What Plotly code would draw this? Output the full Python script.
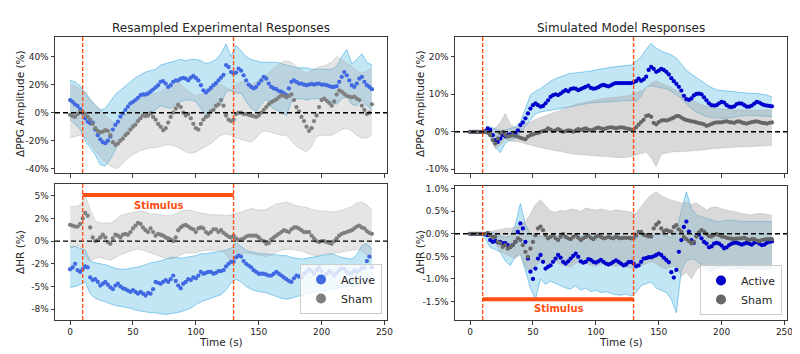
import plotly.graph_objects as go

# ---------------- data ----------------
T = list(range(0, 241, 2))      # mean traces, seconds
TB = list(range(0, 241, 4))     # confidence bands, seconds

# Top-left: Resampled experimental, dPPG amplitude (%)
tl_active = [9, 7.8, 6, 4.7, 2.6, 0, -4, -6.4, -7.6, -7, -12, -16, -19, -21, -21.7, -20, -17, -12, -8.7, -6.4,
             -2.8, -0.5, 2, 4.3, 6.6, 7.8, 9, 10.6, 12.5, 13, 13, 13.7, 15, 16.5, 18, 19.6, 22, 22.5, 20.8, 18.4,
             19.6, 22, 23, 23, 24.3, 24.8, 24.3, 23, 25, 26.2, 24.8, 23, 19.6, 16, 14.4, 16, 17.7, 19.6, 21, 23,
             25, 27, 34, 32.6, 29, 28, 28.6, 31.4, 30, 26.7, 23, 20, 18.4, 17.3, 18.4, 20.8, 23, 25.5, 24.3, 20.8,
             18.4, 17.3, 16.8, 15.4, 15, 13.7, 12.5, 17.3, 22, 23, 22, 20.8, 20.8, 20, 19.6, 20, 20.6, 20, 20.6, 20.8,
             20, 20, 19.6, 19, 18.4, 18.4, 19, 22, 25.5, 29, 26.7, 23, 19.6, 18.4, 20.8, 24.3, 25.5, 22, 19.6, 18.4,
             16.8]
tl_sham = [-1.5, -2.5, -3, -1, 0.5, 0, -1, -3, -5, -8, -11, -13, -14, -13.5, -12.5, -13, -16, -21, -23, -22,
           -20, -18.5, -16, -14.5, -12, -10, -8.5, -6, -4, -2, -2.5, -2, -0.5, -3, -5, -8, -10, -12.5, -11, -7,
           -3, 0, 3, 5.5, 4, 0, -2, -1, -4, -8, -11, -12, -8, -5, -3, -2, 1, 2, 5, 6,
           9, 5, -2, -5, -6, -5, -1, 0, 0, -1, -1, -1.5, -2, -2.5, -3, -2, 0, 2, 4, 6,
           7.5, 8.5, 9.5, 11, 12.5, 12, 11, 12, 13, 9, 4, 1, -3, -6, -10, -13, -11, -6, -2, 4,
           9, 10, 8.5, 7, 5, 8, 13, 16, 15, 13.5, 12, 11.5, 11, 11.5, 10, 9, 5, 2, -1, 0,
           6]
tl_active_hi = [23, 22, 19, 14, 9, 5, 2, 3, 8, 13, 16, 19, 22, 25, 27, 29, 30, 31, 34, 35,
                36, 37, 38, 37, 38, 38, 37, 35, 36, 38, 42, 49, 40, 48, 44, 40, 38, 37, 36, 36,
                36, 36, 35, 34, 33, 32, 32, 32, 31, 31, 31, 31, 31, 33, 40, 45, 35, 38, 42, 36, 34]
tl_active_lo = [-5, -8, -12, -20, -25, -30, -37, -38, -33, -26, -20, -14, -9, -6, -3, -2, 0, 2, 5, 4,
                3, 6, 8, 9, 9, 8, 3, -2, 0, 3, 6, 15, 16, 14, 14, 8, 3, 1, 6, 10,
                4, 2, 0, -2, 8, 10, 10, 9, 10, 10, 10, 9, 7, 6, 10, 12, 6, 5, 9, 5, 2]
tl_sham_hi = [20, 19, 17, 15, 10, 6, 2, -2, -5, -8, -5, -2, 3, 8, 10, 12, 13, 14, 15, 18,
              20, 22, 20, 17, 14, 12, 13, 14, 16, 19, 20, 18, 16, 20, 22, 21, 20, 22, 25, 27,
              30, 33, 36, 37, 36, 33, 30, 28, 30, 32, 33, 34, 36, 40, 38, 35, 33, 30, 28, 30, 32]
tl_sham_lo = [-18, -17, -16, -18, -22, -27, -32, -35, -38, -40, -38, -34, -31, -29, -27, -26, -25, -25, -24, -23,
              -23, -24, -26, -28, -29, -28, -26, -24, -22, -19, -16, -15, -16, -18, -19, -20, -21, -18, -14, -13,
              -14, -15, -16, -16, -20, -24, -26, -28, -24, -17, -16, -16, -16, -14, -12, -11, -13, -16, -18, -18, -16]

# Bottom-left: Resampled experimental, dHR (%)
bl_active = [-3.1, -2.9, -2.5, -3.2, -3.4, -3.1, -2.8, -2.9, -4, -4.3, -4.2, -4.5, -4.9, -4.7, -4.5, -4.8, -5.1, -5.3, -4.9, -4.7,
             -5, -5.2, -5.3, -5.45, -5.6, -5.4, -5.6, -5.8, -5.6, -5.8, -6, -5.7, -5.8, -5.3, -4.5, -4.6, -4.7, -4.5, -4.3, -4.5,
             -4.2, -3.8, -4.4, -4.9, -5.2, -4.7, -4.5, -4.2, -4.3, -4, -4.1, -3.8, -3.4, -3.6, -3.5, -3.4, -3.4, -3.6, -3.5, -3.3,
             -3.3, -3.2, -2.8, -2.5, -2.3, -2.3, -1.8, -1.6, -1.7, -2.2, -2.5, -2.7, -2.9, -3.2, -3.4, -3.6, -3.6, -3.6, -3.7, -3.8,
             -3.8, -3.6, -3.4, -3.6, -3.8, -4, -4.2, -4.4, -4.5, -4.1, -3.8, -3.9, -4, -3.6, -3.4, -3.1, -3.3, -3.6, -3.2, -2.9,
             -3.3, -3.8, -3.6, -3.3, -3.5, -3.8, -3.5, -3.2, -3, -3.1, -3.4, -3.6, -3.5, -3.2, -3.4, -3.2, -3, -2.9, -2.2, -1.7,
             -2.9]
bl_sham = [1.8, 1.7, 1.6, 1.6, 1.9, 2.5, 3.1, 2.8, 1.5, 0.4, 0, 0.1, 0.4, 0.7, 0.4, -0.1, -0.3, 0.3, 0.7, 0.6,
           0.4, 0.7, 0.8, 0.7, 1, 1.4, 1.7, 2, 1.9, 1.5, 1.2, 1, 1.4, 1, 0.6, 0.8, 0.7, 0.6, 0.4, 0.3,
           0.2, 0, 0.4, 1.2, 1.5, 1.7, 1.8, 1.6, 1.4, 1.3, 1, 1.4, 1.5, 1.4, 1, 0.8, 1, 1.3, 1.3, 1,
           1.2, 0.9, 0.7, 0.5, 0.4, 0.6, 0.3, 0.1, 0.2, 0.3, 0.5, 0.6, 0.6, 0.6, 0.6, 0.4, 0.1, 0, -0.3, -0.2,
           0.2, 0.4, 0.6, 0.8, 1, 1.2, 1.1, 1, 1.3, 1.5, 1.5, 1.4, 1.2, 1, 1, 1, 0.6, 0.3, 0, -0.1,
           0, 0, -0.1, -0.2, -0.3, 0, 0.3, 0.6, 0.8, 0.9, 1, 1.1, 1.2, 1.4, 1.6, 1.7, 1.5, 1.4, 1.1, 0.9,
           0.8]
bl_active_hi = [-0.6, -0.6, -0.8, -1, -2.2, -2.4, -2.5, -2.6, -2.8, -3, -3.1, -3.1, -3, -2.9, -2.8, -2.6, -2.4, -2.3, -2.2, -2,
                -1.8, -1.8, -1.9, -1.8, -1.7, -1.6, -1.4, -1.4, -1.3, -1.2, -1.1, -1, -0.8, -0.2, -0.6, -1, -1.2, -1.3, -1.4, -1.4,
                -1.5, -1.5, -1.6, -1.6, -1.8, -1.9, -2, -1.9, -1.8, -1.7, -1.6, -1.5, -1.4, -1.6, -1.8, -1.9, -2, -1.5, -0.5, -0.3, -0.9]
bl_active_lo = [-5.1, -5, -4.8, -4.5, -5.8, -6.3, -6.5, -6.7, -6.9, -7.1, -7.2, -7.3, -7.4, -7.6, -7.7, -7.8, -7.9, -7.9, -8, -8.1,
                -8, -7.9, -7.8, -7.6, -7.4, -7, -6.7, -6.5, -6.3, -6.1, -5.9, -5.4, -4.6, -4.2, -4.5, -5, -5.3, -5.5, -5.6, -5.7,
                -5.9, -6.1, -6.3, -6.4, -6.3, -6.1, -6, -5.8, -5.7, -5.6, -5.5, -5.4, -5.3, -5.2, -5.1, -5, -5, -4.9, -4.7, -4.4, -4.5]
bl_sham_hi = [3.8, 3.8, 4, 5, 3.5, 2.2, 2, 2, 2, 2.3, 2.8, 3, 3.1, 3.2, 3.3, 3.2, 3, 3, 2.9, 2.8,
              2.8, 3, 3.3, 3.4, 3.4, 3.2, 3.1, 3, 2.9, 2.9, 2.9, 2.8, 2.9, 3.1, 3.2, 3.4, 3.6, 3.5, 3.4, 3.5,
              3.8, 4.1, 4.2, 4.3, 4.1, 3.9, 3.8, 3.7, 3.5, 3.4, 3.3, 3.3, 3.2, 3.3, 3.4, 3.6, 3.8, 4.2, 4.3, 4, 3.4]
bl_sham_lo = [-0.8, -0.6, -0.5, -1.8, -2.2, -1.9, -1.8, -2, -2.1, -1.8, -1.5, -1.3, -1.1, -0.9, -0.9, -1.1, -1.3, -1.5, -1.7, -1.9,
              -2, -1.8, -1.5, -1.3, -1.3, -1.3, -1.1, -1, -1, -1, -1, -1.5, -2.2, -1.8, -1.4, -1.3, -1.4, -1.5, -1.6, -1.7,
              -1.5, -1.2, -1, -0.9, -0.9, -1, -1.1, -1.3, -1.5, -1.6, -1.5, -1.4, -1.4, -1.3, -1.2, -1.1, -1, -0.9, -1.1, -1.6, -2]

# Top-right: Simulated model, dPPG amplitude (%)
tr_active = [0, 0, 0, 0, 0, 0, 0.2, 0.9, 0.5, -0.9, -2.2, -2.7, -1.8, -0.9, -1.2, -0.9, -0.7, -0.9, -0.4, 0.4,
             1.8, 2.5, 3.6, 4.9, 6.2, 7.1, 7.6, 7.1, 6.7, 6.9, 7.6, 8.4, 9.3, 9.8, 10, 9.8, 10.2, 10.7, 11.1, 10.8,
             11.4, 11.6, 11.5, 11.1, 11.4, 11.7, 12, 12.3, 11.7, 11.5, 11.6, 11.9, 12.3, 12.5, 12.3, 12.1, 12.4, 12.8, 13, 13,
             13, 13, 13, 13, 13, 13.2, 13.5, 14.2, 13.6, 14, 14.7, 16.5, 17.3, 16.8, 16, 16.3, 16.8, 16.5, 16, 15.3,
             14.3, 13.5, 12.8, 12, 11, 9.6, 8.7, 8.5, 8.9, 9.7, 10.1, 10.2, 10, 9.2, 8.4, 7.6, 7.1, 7, 7.1, 7.6,
             8, 7.8, 7.1, 6.7, 6.6, 6.8, 7.4, 7.6, 7.5, 7.1, 6.7, 6.7, 7, 7.5, 8, 7.8, 7.4, 7.1, 7, 6.9,
             6.8]
tr_sham = [0, 0, 0, 0, 0, 0, 0, -0.2, -0.9, -2.2, -3.1, -1.8, -0.4, 0, -0.9, -1.3, -1.1, -0.9, -1.1, -1.3,
           -1.6, -1.8, -2, -1.3, -0.9, -0.7, -0.4, -0.3, 0, 0.2, 0.4, 0.9, 0.6, 0.2, 0.4, 0.7, 0.4, 0, 0.2, 0.4,
           0.3, 0, 0.4, 0.7, 0.5, 0.7, 0.9, 0.6, 0.4, 0.6, 0.9, 1.1, 0.9, 0.7, 0.9, 1.1, 1.2, 1.1, 0.9, 1.1,
           1.2, 1.1, 0.9, 0.8, 0.6, 0.5, 1.2, 1.9, 2.6, 3.2, 4.2, 4.4, 4, 2.4, 2, 2.6, 3, 3.1, 3, 3.2,
           3.5, 3.8, 4.2, 4.2, 3.8, 3.4, 3.1, 3, 2.8, 2.7, 2.5, 2.3, 2.2, 2, 1.6, 1.8, 2.1, 2.4, 2.5, 2.5,
           2.5, 2.7, 2.8, 2.6, 2.5, 2.4, 2.7, 2.8, 2.5, 2.3, 2.2, 2.4, 2.6, 2.7, 2.8, 2.6, 2.4, 2.3, 2.2, 2.4,
           2.5]
tr_active_hi = [0, 0, 0, 0.6, 1.3, 0.8, 0.3, 0.5, 0.8, 1.3, 2.5, 6, 9.8, 10.8, 11.5, 12.5, 13.5, 14.2, 14.7, 15.2,
                15.6, 15.7, 15.8, 16, 16.2, 16.5, 16.8, 17, 17.2, 17.4, 17.6, 17.7, 17.8, 18.8, 20, 22, 23.6, 22.3, 21.5, 21,
                20.5, 19.7, 18.2, 16.4, 15.4, 14.4, 13.4, 12.6, 11.8, 11.2, 11, 10.8, 10.8, 10.6, 10.4, 10.3, 10.2, 10.2, 10.1, 9.8, 9.3]
tr_active_lo = [0, 0, 0, -0.5, -1, -4, -5.6, -3, -2.2, -1.8, -0.3, 1.5, 3.2, 4.8, 5.3, 5.5, 5.7, 5.9, 6.2, 6.5,
                6.7, 7, 7.3, 7.5, 7.7, 7.8, 7.9, 8, 8.2, 8.3, 8.4, 8.4, 8.4, 8.1, 9.5, 12, 12.3, 12, 11.8, 11.5,
                10.8, 9.9, 8.9, 7.5, 6.2, 5.2, 4.6, 4.1, 3.8, 3.6, 3.6, 3.6, 3.8, 4.1, 4.3, 4.4, 4.4, 4.3, 4.3, 4.2, 4]
tr_sham_hi = [0, 0, 0, 0, 0.5, 1, 2.5, 4.9, 2, 1.2, 1.3, 2, 2.7, 3.3, 3.8, 4.3, 4.8, 5.3, 5.9, 6.5,
              7, 7.3, 7.6, 7.9, 8.2, 8.5, 8.8, 9, 9.1, 9.2, 9.3, 9.5, 9.9, 10.5, 11, 11.5, 13, 13.6, 12.9, 12.4,
              11.8, 11, 10.3, 9.5, 8.7, 7.9, 7.2, 6.8, 6.5, 6.2, 6.1, 6, 5.9, 5.9, 5.8, 5.8, 5.8, 5.8, 5.8, 5.8, 5.8]
tr_sham_lo = [0, 0, 0, 0, -1.5, -4.5, -3.5, -2, -2.5, -2.6, -2.7, -3.2, -3.6, -3.9, -4.2, -4.5, -4.8, -5, -5.3, -5.6,
              -5.8, -6, -6.1, -6.2, -6.3, -6.4, -6.6, -6.7, -6.8, -6.9, -6.9, -6.8, -6.6, -6.2, -5.8, -5.4, -7, -9.3, -6, -5.6,
              -5.4, -5.3, -5.3, -5.2, -5.1, -5, -4.9, -4.7, -4.5, -4.4, -4.3, -4.2, -4.1, -4, -4, -4, -3.9, -3.8, -3.7, -3.6, -3.6]

# Bottom-right: Simulated model, dHR (%)
br_active = [0, 0, 0, 0, 0, 0, -0.01, -0.03, -0.14, -0.18, -0.16, -0.19, -0.18, -0.21, -0.21, -0.25, -0.29, -0.25, -0.18, 0.04,
             0.23, 0.12, -0.18, -0.55, -0.84, -1, -0.77, -0.55, -0.47, -0.62, -0.77, -0.73, -0.7, -0.62, -0.55, -0.47, -0.53, -0.62, -0.66, -0.61,
             -0.55, -0.49, -0.44, -0.51, -0.61, -0.64, -0.62, -0.56, -0.58, -0.62, -0.64, -0.61, -0.58, -0.62, -0.66, -0.68, -0.66, -0.62, -0.59, -0.62,
             -0.66, -0.7, -0.68, -0.63, -0.62, -0.66, -0.72, -0.7, -0.62, -0.55, -0.54, -0.52, -0.52, -0.5, -0.47, -0.44, -0.47, -0.53, -0.58, -0.63,
             -0.85, -0.97, -0.8, -0.4, -0.14, 0.15, 0.27, 0.05, -0.14, -0.2, -0.05, -0.02, -0.1, -0.18, -0.22, -0.3, -0.28, -0.22, -0.2, -0.22,
             -0.26, -0.32, -0.3, -0.25, -0.22, -0.2, -0.2, -0.22, -0.24, -0.22, -0.2, -0.22, -0.24, -0.2, -0.18, -0.22, -0.25, -0.24, -0.2, -0.18,
             -0.17]
br_sham = [0, 0, 0, 0, 0, 0, 0, 0.02, -0.03, -0.07, -0.07, -0.18, -0.21, -0.29, -0.25, -0.33, -0.29, -0.25, -0.18, -0.1,
           -0.14, -0.25, -0.4, -0.51, -0.33, -0.18, -0.03, 0.12, 0.16, 0.08, -0.03, -0.1, -0.07, -0.03, -0.1, -0.14, -0.07, -0.01, -0.07, -0.1,
           -0.12, -0.07, -0.03, -0.09, -0.14, -0.1, -0.07, -0.04, -0.09, -0.12, -0.07, -0.04, -0.07, -0.1, -0.09, -0.07, -0.09, -0.1, -0.07, -0.09,
           -0.1, -0.09, -0.09, -0.09, -0.1, -0.1, -0.04, 0.04, 0.04, -0.02, -0.04, -0.06, -0.06, 0.12, 0.2, 0.25, 0.12, 0.05, 0.08, 0.06,
           0.05, 0.15, 0.19, 0.1, 0.04, -0.07, -0.12, -0.16, -0.21, -0.18, -0.06, 0.03, 0.08, 0.05, 0, -0.05, -0.06, -0.03, 0, -0.03,
           -0.06, -0.07, -0.09, -0.1, -0.11, -0.12, -0.11, -0.1, -0.1, -0.09, -0.12, -0.14, -0.12, -0.12, -0.15, -0.16, -0.14, -0.13, -0.12, -0.12,
           -0.12]
br_active_hi = [0, 0, 0, 0.02, 0.05, 0, -0.05, -0.08, -0.05, 0.2, 0.67, 0.2, 0, -0.1, -0.05, -0.1, -0.08, -0.05, -0.03, -0.06,
                -0.08, -0.03, -0.05, -0.02, -0.05, -0.06, -0.04, -0.06, -0.05, -0.03, -0.05, -0.06, -0.05, -0.08, -0.04, 0, 0, -0.02, 0, -0.05,
                -0.08, 0.1, 0.5, 0.93, 0.56, 0.41, 0.38, 0.34, 0.3, 0.27, 0.28, 0.3, 0.3, 0.28, 0.27, 0.27, 0.27, 0.28, 0.28, 0.27, 0.27]
br_active_lo = [0, 0, 0, -0.1, -0.3, -0.35, -0.4, -0.6, -0.7, -0.5, -0.45, -0.8, -1.2, -1.45, -1, -1.12, -1.05, -1.1, -1.15, -1.2,
                -1.22, -1.15, -1.25, -1.2, -1.28, -1.25, -1.3, -1.28, -1.32, -1.35, -1.36, -1.33, -1.38, -1.3, -1.15, -1.1, -1.07, -1.2, -1.25, -1.3,
                -1.45, -1.75, -0.8, -0.6, -0.55, -0.6, -0.7, -0.8, -0.84, -0.75, -0.7, -0.75, -0.8, -0.78, -0.74, -0.78, -0.8, -0.78, -0.8, -0.77, -0.75]
br_sham_hi = [0, 0, 0, 0.03, 0.05, 0.08, 0.1, 0.12, 0.12, 0.15, 0.2, 0.25, 0.45, 0.65, 0.75, 0.62, 0.5, 0.48, 0.52, 0.5,
              0.55, 0.53, 0.5, 0.57, 0.55, 0.52, 0.55, 0.52, 0.5, 0.53, 0.52, 0.5, 0.48, 0.45, 0.6, 0.75, 0.86, 0.93, 0.85, 0.79,
              0.75, 0.71, 0.68, 0.7, 0.65, 0.68, 0.6, 0.53, 0.58, 0.6, 0.55, 0.52, 0.5, 0.48, 0.45, 0.43, 0.42, 0.45, 0.45, 0.43, 0.41]
br_sham_lo = [0, 0, 0, -0.05, -0.1, -0.2, -0.4, -0.45, -0.5, -0.55, -0.45, -0.75, -0.85, -0.7, -0.62, -0.66, -0.64, -0.62, -0.68, -0.72,
              -0.74, -0.66, -0.62, -0.66, -0.7, -0.72, -0.68, -0.66, -0.7, -0.72, -0.7, -0.74, -0.76, -0.72, -0.7, -0.66, -0.62, -0.66, -0.75, -0.78,
              -0.73, -0.72, -0.95, -0.85, -1.0, -0.8, -0.7, -0.75, -0.78, -0.75, -0.76, -0.72, -0.7, -0.75, -0.78, -0.76, -0.74, -0.75, -0.75, -0.73, -0.73]

stim_start, stim_end = 10, 130
x_ticks = [0, 50, 100, 150, 200, 250]
tl_ticks = [-40, -20, 0, 20, 40]
tl_labels = ["-40%", "-20%", "0%", "20%", "40%"]
bl_ticks = [-7.5, -5, -2.5, 0, 2.5, 5]
bl_labels = ["-8%", "-5%", "-2%", "0%", "2%", "5%"]
tr_ticks = [-10, 0, 10, 20]
tr_labels = ["-10%", "0%", "10%", "20%"]
br_ticks = [-1.5, -1.0, -0.5, 0, 0.5, 1.0]
br_labels = ["-1.5%", "-1.0%", "-0.5%", "0.0%", "0.5%", "1.0%"]

# ---------------- styling ----------------
FONT = "DejaVu Sans"
TXT = "#262626"
ORANGE = "#FF4F12"
BLUE_L, BLUE_R = "#4169E1", "#0000CD"
GRAY_L, GRAY_R = "#7f7f7f", "#666666"
BLUE_FILL = "rgba(135,206,235,0.5)"
BLUE_EDGE = "rgba(80,180,230,0.85)"
GRAY_FILL_L = "rgba(170,170,170,0.3)"
GRAY_FILL_R = "rgba(170,170,170,0.45)"
GRAY_EDGE = "rgba(170,170,170,0.5)"

# The page body has an 8px margin, so the figure is 792x346 and sits at (8, 8) in the window.
W, H, OFF = 792, 346, 8


def px(x):
    return (x - OFF) / W


def py(y):
    return (OFF + H - y) / H


fig = go.Figure()


def add_band(xa, ya, hi, lo, fill, edge):
    fig.add_trace(go.Scatter(x=TB, y=hi, xaxis=xa, yaxis=ya, mode="lines",
                             line=dict(color=edge, width=0.8), showlegend=False, hoverinfo="skip"))
    fig.add_trace(go.Scatter(x=TB, y=lo, xaxis=xa, yaxis=ya, mode="lines", fill="tonexty",
                             fillcolor=fill, line=dict(color=edge, width=0.8), showlegend=False, hoverinfo="skip"))


def add_dots(xa, ya, y, color):
    fig.add_trace(go.Scatter(x=T, y=y, xaxis=xa, yaxis=ya, mode="markers",
                             marker=dict(color=color, size=4.3, line=dict(width=0)), showlegend=False))


panels = [
    ("x", "y", tl_active, tl_sham, tl_active_hi, tl_active_lo, tl_sham_hi, tl_sham_lo, BLUE_L, GRAY_L, GRAY_FILL_L),
    ("x2", "y2", tr_active, tr_sham, tr_active_hi, tr_active_lo, tr_sham_hi, tr_sham_lo, BLUE_R, GRAY_R, GRAY_FILL_R),
    ("x3", "y3", bl_active, bl_sham, bl_active_hi, bl_active_lo, bl_sham_hi, bl_sham_lo, BLUE_L, GRAY_L, GRAY_FILL_L),
    ("x4", "y4", br_active, br_sham, br_active_hi, br_active_lo, br_sham_hi, br_sham_lo, BLUE_R, GRAY_R, GRAY_FILL_R),
]
for xa, ya, act, sham, ahi, alo, shi, slo, cb, cg, gfill in panels:
    add_band(xa, ya, ahi, alo, BLUE_FILL, BLUE_EDGE)
    add_band(xa, ya, shi, slo, gfill, GRAY_EDGE)
    add_dots(xa, ya, act, cb)
    add_dots(xa, ya, sham, cg)

# legend proxies
for name, color, lg in [("Active", BLUE_L, "legend"), ("Sham", GRAY_L, "legend"),
                        ("Active", BLUE_R, "legend2"), ("Sham", GRAY_R, "legend2")]:
    fig.add_trace(go.Scatter(x=[None], y=[None], xaxis="x3" if lg == "legend" else "x4",
                             yaxis="y3" if lg == "legend" else "y4", mode="markers", name=name,
                             marker=dict(color=color, size=10), legend=lg, showlegend=True))

XL = [px(55), px(387)]
XR = [px(455), px(787)]
YT = [py(173), py(37)]
YBL = [py(320), py(184)]
YBR = [py(320), py(185.5)]

axis_common = dict(showline=True, mirror=True, linecolor="#3a3a3a", linewidth=1, ticks="outside",
                   ticklen=3.5, tickwidth=1, tickcolor="#3a3a3a", showgrid=False, zeroline=False,
                   automargin=False, tickfont=dict(family=FONT, size=9, color=TXT))


def xaxis(domain, anchor, labels):
    return dict(axis_common, domain=domain, anchor=anchor, range=[-12, 252], tickmode="array",
                tickvals=x_ticks, showticklabels=labels)


def yaxis(domain, anchor, rng, tv, tt):
    return dict(axis_common, domain=domain, anchor=anchor, range=rng, tickmode="array",
                tickvals=tv, ticktext=tt)


leg_common = dict(xanchor="right", yanchor="bottom", bgcolor="rgba(255,255,255,0.8)",
                  bordercolor="#cccccc", borderwidth=1, traceorder="normal",
                  font=dict(family=FONT, size=11, color=TXT), tracegroupgap=0)

fig.update_layout(
    template="none",
    width=W, height=H, margin=dict(l=0, r=0, t=0, b=0, pad=0),
    paper_bgcolor="white", plot_bgcolor="white",
    font=dict(family=FONT, color=TXT),
    xaxis=xaxis(XL, "y", False), yaxis=yaxis(YT, "x", [-43, 54], tl_ticks, tl_labels),
    xaxis2=xaxis(XR, "y2", False), yaxis2=yaxis(YT, "x2", [-11, 25.3], tr_ticks, tr_labels),
    xaxis3=xaxis(XL, "y3", True), yaxis3=yaxis(YBL, "x3", [-8.7, 6.3], bl_ticks, bl_labels),
    xaxis4=xaxis(XR, "y4", True), yaxis4=yaxis(YBR, "x4", [-1.91, 1.07], br_ticks, br_labels),
    legend=dict(leg_common, x=px(382), y=py(314)),
    legend2=dict(leg_common, x=px(782), y=py(315)),
    showlegend=True,
)

shapes = []
for xa, ya in [("x", "y"), ("x2", "y2"), ("x3", "y3"), ("x4", "y4")]:
    shapes.append(dict(type="line", xref=f"{xa} domain", yref=ya, x0=0, x1=1, y0=0, y1=0,
                       line=dict(color="black", width=1.4, dash="5px,3px"), layer="above"))
    for xv in (stim_start, stim_end):
        shapes.append(dict(type="line", xref=xa, yref=f"{ya} domain", x0=xv, x1=xv, y0=0, y1=1,
                           line=dict(color=ORANGE, width=1.4, dash="4px,2px"), layer="above"))
shapes.append(dict(type="line", xref="x3", yref="y3", x0=stim_start, x1=stim_end, y0=5.1, y1=5.1,
                   line=dict(color=ORANGE, width=4)))
shapes.append(dict(type="line", xref="x4", yref="y4", x0=stim_start, x1=stim_end, y0=-1.45, y1=-1.45,
                   line=dict(color=ORANGE, width=4)))
fig.update_layout(shapes=shapes)

C = dict(xanchor="center", yanchor="middle", showarrow=False)
ann = []
ann.append(dict(C, text="<b>Stimulus</b>", xref="x3", yref="y3", x=70, y=3.95,
                font=dict(family=FONT, size=10, color=ORANGE)))
ann.append(dict(C, text="<b>Stimulus</b>", xref="x4", yref="y4", x=70, y=-1.66,
                font=dict(family=FONT, size=10, color=ORANGE)))
for txt, x in [("Resampled Experimental Responses", 221), ("Simulated Model Responses", 621)]:
    ann.append(dict(C, text=txt, xref="paper", yref="paper", x=px(x), y=py(28),
                    font=dict(family=FONT, size=12, color=TXT)))
for x in (221, 621):
    ann.append(dict(C, text="Time (s)", xref="paper", yref="paper", x=px(x), y=py(342),
                    font=dict(family=FONT, size=10.5, color=TXT)))
for x in (20, 420):
    ann.append(dict(C, text="ΔPPG Amplitude (%)", xref="paper", yref="paper", x=px(x), y=py(104),
                    textangle=-90, font=dict(family=FONT, size=10.5, color=TXT)))
    ann.append(dict(C, text="ΔHR (%)", xref="paper", yref="paper", x=px(x), y=py(252),
                    textangle=-90, font=dict(family=FONT, size=10.5, color=TXT)))
fig.update_layout(annotations=ann)

fig.write_html("out.html")
